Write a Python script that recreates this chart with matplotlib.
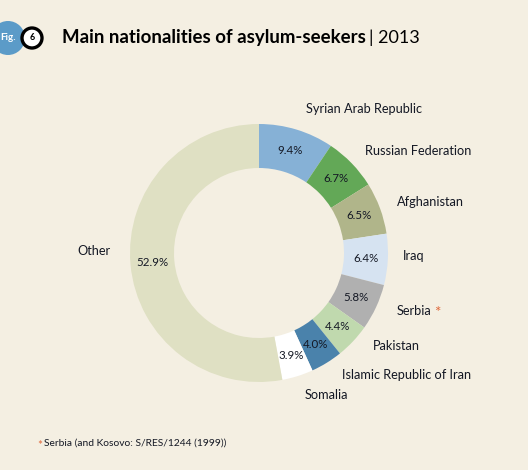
import matplotlib.pyplot as plt
from matplotlib.patches import Circle

# ---- data ----
countries = ["Syrian Arab Republic", "Russian Federation", "Afghanistan", "Iraq",
             "Serbia", "Pakistan", "Islamic Republic of Iran", "Somalia", "Other"]
shares = [9.4, 6.7, 6.5, 6.4, 5.8, 4.4, 4.0, 3.9, 52.9]
colors = ["#86b1d6", "#63a857", "#b0b58a", "#d6e3f1", "#b0b0b0",
          "#c0d9ae", "#4a82ab", "#ffffff", "#dfe0c3"]

# label anchor points in pixels (x, y from top), horizontal alignment
label_pos = [(364, 109, "center"), (365, 151, "left"), (397, 202, "left"),
             (403, 256, "left"), (397, 311, "left"), (373, 346, "left"),
             (342, 375, "left"), (305, 395, "left"), (111, 251, "right")]

BG = "#f4efe2"
TXT = "#141824"
W, H = 528, 470
FONT = "Lato"

fig = plt.figure(figsize=(W / 100, H / 100), dpi=100, facecolor=BG)
ax = fig.add_axes([0, 0, 1, 1])
ax.set_facecolor(BG)

cx, cy, r = 259, H - 253, 129
wedges, _, pcts = ax.pie(shares, colors=colors, startangle=90, counterclock=False,
                         center=(cx, cy), radius=r, autopct="%.1f%%",
                         pctdistance=0.83,
                         wedgeprops=dict(width=44, linewidth=0),
                         textprops=dict(fontsize=8.3, color=TXT, family=FONT))
ax.set_xlim(0, W)
ax.set_ylim(0, H)
ax.set_aspect("equal")
ax.axis("off")

for name, (x, y, ha) in zip(countries, label_pos):
    ax.text(x, H - y, name, ha=ha, va="center", fontsize=9.2, color=TXT, family=FONT)
# red asterisk after Serbia
ax.text(434, H - 313, "*", ha="left", va="center", fontsize=11, color="#e0683a",
        family=FONT)

# ---- title with badge ----
ax.add_patch(Circle((8, H - 38), 17, color="#5b9bc8", lw=0))
ax.add_patch(Circle((32, H - 38), 10, facecolor="white", edgecolor="black", lw=2.4))
ax.text(8, H - 38, "Fig.", ha="center", va="center", fontsize=7,
        fontweight="bold", color="white", family=FONT)
ax.text(32, H - 38, "6", ha="center", va="center", fontsize=6.5,
        fontweight="bold", color="black", family=FONT)
t = ax.text(62, H - 38, "Main nationalities of asylum-seekers", ha="left",
            va="center", fontsize=13.4, fontweight="bold", color="black", family=FONT)
fig.canvas.draw()
bb = t.get_window_extent()
ax.text(bb.x1 + 3, H - 38, "| 2013", ha="left", va="center", fontsize=13,
        color="black", family=FONT)

# ---- footnote ----
ax.text(37, H - 445, "*", ha="left", va="center", fontsize=8.5, color="#e0683a",
        family=FONT)
ax.text(44, H - 443, "Serbia (and Kosovo: S/RES/1244 (1999))", ha="left",
        va="center", fontsize=7.4, color=TXT, family=FONT)

fig.savefig("out.png", dpi=100, facecolor=BG)
